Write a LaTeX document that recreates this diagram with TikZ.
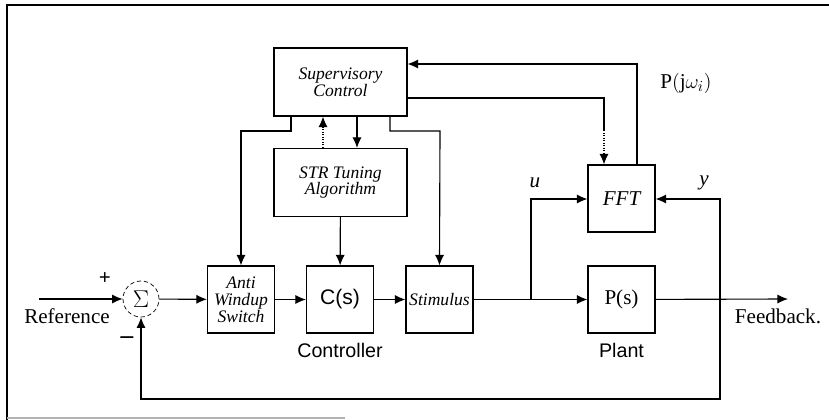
\documentclass[tikz,border=0pt]{standalone}
\usepackage{fontspec}
\setmainfont{Liberation Serif}
\setsansfont{Liberation Sans}
\usepackage{tikz}
\usetikzlibrary{arrows.meta, positioning}
\newcommand{\lbl}{\fontsize{15}{17}\selectfont}
\newcommand{\boxit}{\fontsize{12.5}{13.5}\selectfont\itshape}

\begin{document}
\begin{tikzpicture}[
  x=0.025cm, y=-0.025cm,
  blk/.style   = {draw, line width=0.8pt, minimum width=1.675cm,
                  minimum height=1.675cm, inner sep=0pt, align=center},
  wide/.style  = {blk, minimum width=3.325cm, minimum height=1.7cm},
  sumnode/.style = {draw, circle, line width=0.5pt, densely dashed,
                  minimum size=0.9cm, inner sep=0pt},
  wire/.style  = {line width=0.8pt},
  arr/.style   = {-{Latex[length=7.5pt,width=6.5pt]}, wire},
  dotarr/.style= {-{Latex[length=7.5pt,width=6.5pt]}, wire, densely dotted},
]
  \useasboundingbox (0,0) rectangle (829,420);
  % frame
  \draw[wire] (829,5) -- (7,5) -- (7,420);
  \draw[gray!60, wire] (7,418) -- (345,418);

  \node[wide] (sup) at (340.5,82)  {\boxit Supervisory\\ \boxit Control};
  \node[wide] (str) at (340.5,182.5) {\boxit STR Tuning\\ \boxit Algorithm};
  \node[sumnode] (sum) at (141,299) {\LARGE$\Sigma$};
  \node[blk] (aw)   at (241,299.5) {\boxit Anti\\ \boxit Windup\\ \boxit Switch};
  \node[blk] (cs)   at (340,299.5) {\sffamily\fontsize{15}{17}\selectfont C(s)};
  \node[blk] (stim) at (439.5,299.5) {\boxit Stimulus};
  \node[blk] (ps)   at (621.5,299.5) {\lbl P(s)};
  \node[blk] (fft)  at (621.5,198.5) {\lbl\itshape FFT};

  \coordinate (ref) at (39,299);
  \coordinate (out) at (788,299);
  \coordinate (br)  at (531,299);
  \coordinate (fb)  at (720,299);
  \coordinate (dn)  at (604,130);

  \node (reflbl) at (67,316)  {\lbl Reference};
  \node (plus)   at (105,279) {\lbl\bfseries +};
  \node (minus)  at (127,340) {\fontsize{18}{18}\selectfont\bfseries --};
  \node (ctl)    at (340,350) {\sffamily\fontsize{14}{16}\selectfont Controller};
  \node (plt)    at (621.5,350) {\sffamily\fontsize{14}{16}\selectfont Plant};
  \node (fblbl)  at (778,316) {\lbl Feedback.};
  \node (ulbl)   at (535,183) {\lbl\itshape u};
  \node (ylbl)   at (704,183) {\lbl\itshape y};
  \node (plbl)   at (686,83)  {\lbl P$\big($j$\omega_{i}\big)$};

  % forward path
  \draw[arr] (ref) -- (sum);
  \draw[arr] (sum) -- (aw);
  \draw[arr] (aw) -- (cs);
  \draw[arr] (cs) -- (stim);
  \draw[arr] (stim) -- (ps);
  \draw[arr] (ps) -- (out);
  \draw[arr] (br) |- (fft.west |- 0,199);
  % feedback
  \draw[arr] (fb) |- (fft.east |- 0,199);
  \draw[arr] (fb) -- (720,399) -| (sum.south);
  % supervisory links
  \draw[arr] (sup.south -| 291,0) |- (241,131) -- (aw.north);
  \draw[arr] (sup.south -| 390,0) |- (440,131) -- (stim.north);
  \draw[arr] (sup.south -| 357,0) -- (str.north -| 357,0);
  \draw[dotarr] (str.north -| 323,0) -- (sup.south -| 323,0);
  \draw[arr] (str) -- (cs);
  \draw[wire] (sup.east |- 0,98) -| (dn);
  \draw[dotarr] (dn) -- (fft.north -| 604,0);
  \draw[arr] (fft.north -| 637,0) |- (sup.east |- 0,64);
\end{tikzpicture}
\end{document}
